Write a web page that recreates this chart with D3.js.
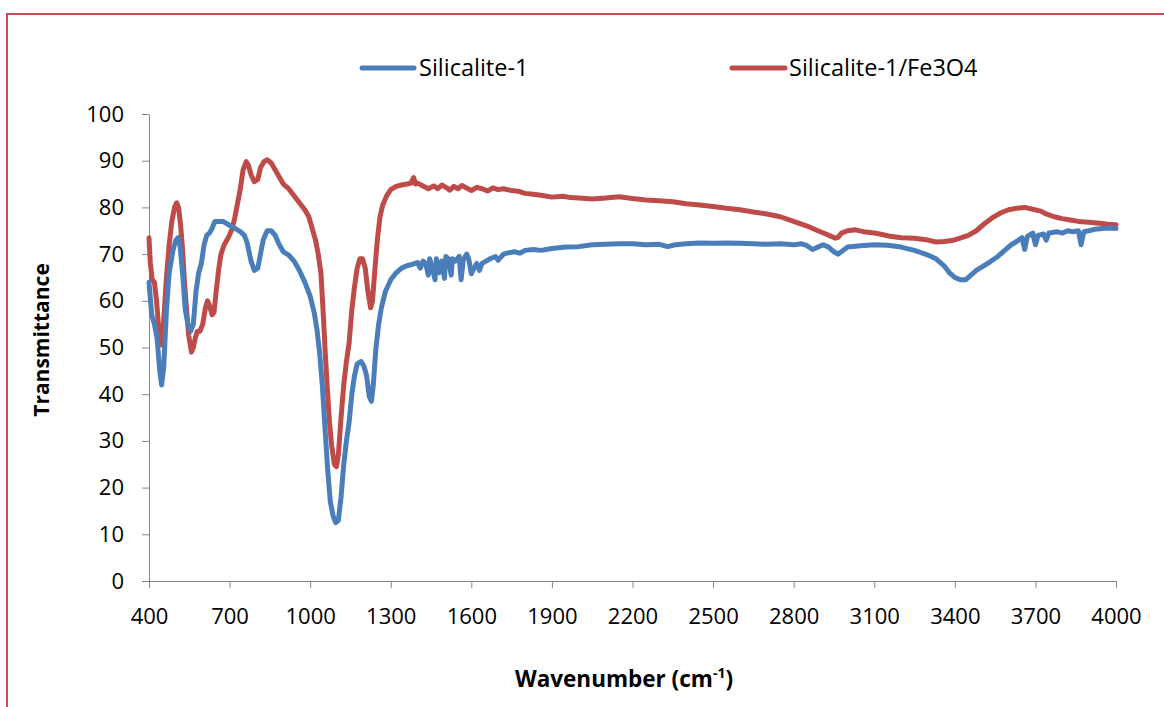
<!DOCTYPE html>
<html>
<head>
<meta charset="utf-8">
<script src="https://cdn.jsdelivr.net/npm/d3@7"></script>
<style>
  html, body { margin: 0; padding: 0; background: #ffffff; }
  svg { display: block; }
</style>
</head>
<body>
<svg id="chart" width="1164" height="707"></svg>
<script>
// FTIR spectra: wavenumber (cm-1) and transmittance (%)
const seriesNames = ["Silicalite-1", "Silicalite-1/Fe3O4"];
const seriesColors = ["#4A7EBB", "#BE4B48"];

const silicaliteWn = [400,410,420,430,440,447,455,465,475,490,500,508,515,525,535,545,555,565,575,585,595,605,615,625,635,645,660,675,690,705,720,740,755,765,780,792,805,815,825,840,855,870,885,900,920,940,960,980,1000,1015,1025,1035,1045,1055,1065,1075,1085,1095,1105,1115,1125,1135,1145,1155,1165,1175,1190,1200,1210,1220,1228,1235,1245,1255,1265,1280,1300,1320,1340,1360,1380,1400,1410,1420,1430,1440,1445,1455,1465,1470,1480,1490,1500,1505,1515,1525,1530,1540,1555,1562,1570,1583,1590,1600,1610,1620,1630,1640,1655,1670,1690,1700,1720,1740,1760,1780,1800,1830,1860,1900,1950,2000,2050,2100,2150,2200,2250,2300,2330,2360,2400,2450,2500,2550,2600,2650,2700,2750,2800,2830,2850,2870,2890,2910,2930,2950,2965,2980,3000,3050,3100,3150,3200,3250,3300,3330,3360,3380,3400,3420,3440,3460,3480,3500,3530,3560,3590,3610,3630,3650,3660,3670,3690,3700,3710,3730,3740,3750,3780,3800,3820,3840,3860,3870,3880,3900,3920,3950,3980,4000];
const silicaliteT = [64,57,55,52,45,42,46,58,66,71,73,73.5,72,66,58,55,53.5,55,62,66,68,72,74,74.5,75.5,77,77,77,76.5,76,75.5,74.8,74,72.5,68.5,66.5,67,70,73,75,75,74,72,70.5,69.8,68.5,66.5,64,61,57.5,54,49,42,33,24,17,14,12.5,13,18,25,30,34,40,44,46.5,47,46,44,39.5,38.5,42,50,55,58.5,62,64.5,66,67,67.5,67.8,68.2,67,68.5,68,65.5,69,67,64.5,69,66,68.5,64.8,69.5,69,65.5,69,68.5,69.5,64.5,68.8,70,69,65.8,67,68,66.5,68,68.5,69,69.5,68.7,70,70.3,70.5,70.2,70.8,71,70.8,71.2,71.5,71.6,72,72.1,72.2,72.2,72,72.1,71.6,72,72.2,72.4,72.3,72.4,72.3,72.2,72.1,72.2,72,72.2,71.8,71,71.5,72,71.5,70.5,70,70.6,71.5,71.8,72,71.9,71.5,70.8,69.8,69,67.5,66,65,64.5,64.5,65.5,66.5,67.2,68.3,69.5,71,72,72.7,73.5,71,73.8,74.5,72,74,74.3,73,74.5,74.8,74.5,75,74.8,75,72,74.8,75,75.3,75.5,75.6,75.5];

const fe3o4Wn = [400,405,412,420,428,435,442,448,455,465,475,485,495,503,510,518,525,532,540,548,558,565,572,580,590,600,610,618,625,635,642,650,660,668,680,695,710,720,730,740,750,762,770,780,792,805,815,828,840,855,870,885,900,920,940,960,980,995,1010,1020,1030,1040,1048,1056,1064,1072,1080,1090,1098,1105,1115,1125,1135,1145,1155,1165,1175,1185,1195,1205,1215,1225,1232,1240,1250,1260,1270,1285,1300,1320,1340,1360,1375,1385,1392,1400,1420,1440,1460,1475,1490,1505,1520,1535,1550,1565,1580,1600,1620,1640,1660,1680,1700,1720,1750,1780,1800,1830,1860,1900,1940,1970,2000,2050,2100,2150,2200,2250,2300,2350,2400,2450,2500,2550,2600,2650,2700,2750,2800,2850,2890,2920,2940,2955,2965,2978,3000,3030,3060,3100,3130,3160,3200,3250,3300,3330,3360,3390,3420,3450,3480,3510,3540,3570,3600,3630,3660,3690,3720,3740,3770,3800,3830,3860,3900,3940,3970,4000];
const fe3o4T = [73.5,68,64.5,64,60,55,51,50.5,56,65,72,77,80,81,80,76,71,64,58,52.5,49,50,52,53.5,53.5,55,58.5,60,59,57,57.5,62,67,70,72,73.5,75.5,78,81,84,88,89.8,89,87,85.5,86,88.5,89.8,90.2,89.5,88,86.5,85,84,82.5,81,79.5,78,75,73,70,66,58,49,41,34,29,25,24.5,27,35,42,47,51,58,63,67,69,69,67,62,58.5,60,66,73,78,80.5,82.5,83.8,84.5,84.8,85,85.2,86.4,85,85.2,84.6,84,84.6,84,84.8,84.3,83.7,84.5,84,84.7,84.2,83.6,84.3,84,83.5,84.2,83.8,84,83.6,83.4,83,82.8,82.6,82.2,82.4,82.1,82,81.8,82,82.3,81.9,81.6,81.4,81.2,80.8,80.5,80.2,79.8,79.5,79,78.6,78,77,76,75,74.3,73.8,73.4,73.6,74.5,75,75.2,74.8,74.5,74.2,73.8,73.5,73.4,73,72.6,72.7,72.9,73.4,74,75,76.5,77.8,78.8,79.5,79.8,80,79.6,79.2,78.6,78,77.6,77.3,77,76.8,76.6,76.4,76.3];

const xTicks = [400,700,1000,1300,1600,1900,2200,2500,2800,3100,3400,3700,4000];
const yTicks = [0,10,20,30,40,50,60,70,80,90,100];

const svg = d3.select("#chart");
const axisColor = "#868686";
const tickFont = "'Open Sans', 'Liberation Sans', sans-serif";

// outer frame
svg.append("rect")
  .attr("x", 7).attr("y", 14)
  .attr("width", 1180).attr("height", 720)
  .attr("fill", "#ffffff")
  .attr("stroke", "#C0504D")
  .attr("stroke-width", 2);

const plot = { left: 149, right: 1116, top: 114, bottom: 581 };

const x = d3.scaleLinear().domain([400, 4000]).range([plot.left, plot.right]);
const y = d3.scaleLinear().domain([0, 100]).range([plot.bottom, plot.top]);

// y axis
const yAxis = svg.append("g")
  .attr("transform", `translate(${plot.left},0)`)
  .call(d3.axisLeft(y).tickValues(yTicks).tickSize(7).tickSizeOuter(0).tickPadding(18));
yAxis.select(".domain").attr("stroke", axisColor);
yAxis.selectAll(".tick line").attr("stroke", axisColor);
yAxis.selectAll(".tick text")
  .attr("font-family", tickFont).attr("font-size", 22).attr("fill", "#000");

// x axis
const xAxis = svg.append("g")
  .attr("transform", `translate(0,${plot.bottom})`)
  .call(d3.axisBottom(x).tickValues(xTicks).tickFormat(d3.format("d")).tickSize(7).tickSizeOuter(0).tickPadding(20));
xAxis.select(".domain").attr("stroke", axisColor);
xAxis.selectAll(".tick line").attr("stroke", axisColor);
xAxis.selectAll(".tick text")
  .attr("font-family", tickFont).attr("font-size", 22).attr("fill", "#000");

// spectra
const seriesData = [
  silicaliteWn.map((w, i) => [w, silicaliteT[i]]),
  fe3o4Wn.map((w, i) => [w, fe3o4T[i]])
];
const line = d3.line().x(d => x(d[0])).y(d => y(d[1])).curve(d3.curveLinear);

// red series drawn first, blue on top
[1, 0].forEach(k => {
  svg.append("path")
    .datum(seriesData[k])
    .attr("d", line)
    .attr("fill", "none")
    .attr("stroke", seriesColors[k])
    .attr("stroke-width", 5)
    .attr("stroke-linejoin", "round")
    .attr("stroke-linecap", "round");
});

// legend
const legendItems = [
  { x0: 362, x1: 414, tx: 419 },
  { x0: 732, x1: 785, tx: 789 }
];
legendItems.forEach((it, k) => {
  svg.append("line")
    .attr("x1", it.x0).attr("x2", it.x1)
    .attr("y1", 68).attr("y2", 68)
    .attr("stroke", seriesColors[k]).attr("stroke-width", 5)
    .attr("stroke-linecap", "round");
  svg.append("text")
    .attr("x", it.tx).attr("y", 68).attr("dy", "0.35em")
    .attr("font-family", tickFont).attr("font-size", 23.5)
    .attr("fill", "#000")
    .text(seriesNames[k]);
});

// axis titles
svg.append("text")
  .attr("transform", "translate(42,340) rotate(-90)")
  .attr("text-anchor", "middle").attr("dy", "0.35em")
  .attr("font-family", tickFont).attr("font-weight", "bold").attr("font-size", 21)
  .attr("fill", "#000")
  .text("Transmittance");

const xt = svg.append("text")
  .attr("x", 624).attr("y", 687)
  .attr("text-anchor", "middle")
  .attr("font-family", tickFont).attr("font-weight", "bold").attr("font-size", 22.5)
  .attr("fill", "#000");
xt.append("tspan").text("Wavenumber (cm");
xt.append("tspan").attr("font-size", 14).attr("dy", -9).text("-1");
xt.append("tspan").attr("dy", 9).text(")");
</script>
</body>
</html>
